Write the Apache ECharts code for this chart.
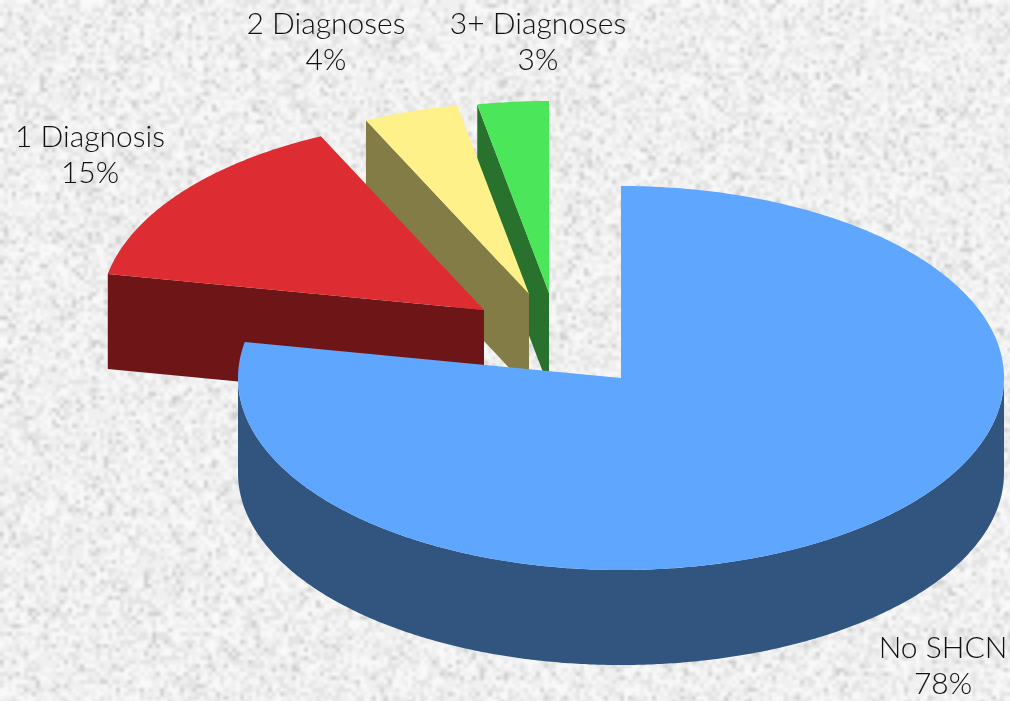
<!DOCTYPE html>
<html>
<head>
<meta charset="utf-8">
<style>
  html, body { margin: 0; padding: 0; background: #eee; }
  #shcnChart { width: 1010px; height: 701px; }
</style>
</head>
<body>
<div id="shcnChart"></div>
<script src="https://cdn.jsdelivr.net/npm/echarts@6/dist/echarts.min.js"></script>
<script>
const categories = ["No SHCN", "1 Diagnosis", "2 Diagnoses", "3+ Diagnoses"];
const shares = [78, 15, 4, 3];

const topColors = ["#5FA6FF", "#DE2C33", "#FFF18A", "#4CE65A"];
const sideColors = ["#32557F", "#6E1518", "#847C47", "#28722E"];
// where each wedge's tip sits once pulled out of the pie
const tips = [[621, 378], [484, 310], [529, 294], [549, 293]];
const labelPos = [[943, 666], [90, 155], [326, 42], [538, 42]];

const RX = 383;
const RY = 192;
const DEPTH = 95;

// mottled paper texture, fixed seed so every render is the same
function paperTexture() {
  const w = 253;
  const h = 176;
  const small = document.createElement("canvas");
  small.width = w;
  small.height = h;
  const ctx = small.getContext("2d");
  const img = ctx.createImageData(w, h);
  let seed = 20231;
  for (let i = 0; i < img.data.length; i += 4) {
    seed = (seed * 1103515245 + 12345) & 0x7fffffff;
    const n = (seed >> 8) % 100;
    const v = n < 6 ? 208 : n < 30 ? 228 : n < 70 ? 240 : 249;
    img.data[i] = img.data[i + 1] = img.data[i + 2] = v;
    img.data[i + 3] = 255;
  }
  ctx.putImageData(img, 0, 0);
  // one sheet the size of the page, so there are no tile seams
  const sheet = document.createElement("canvas");
  sheet.width = 1010;
  sheet.height = 701;
  const t = sheet.getContext("2d");
  t.imageSmoothingEnabled = true;
  t.drawImage(small, 0, 0, 1012, 704);
  return sheet;
}

function rimPoint(tip, deg, drop) {
  const a = (deg * Math.PI) / 180;
  return [tip[0] + RX * Math.sin(a), tip[1] - RY * Math.cos(a) + (drop || 0)];
}

function arcPoints(tip, from, to, drop) {
  const pts = [];
  const steps = Math.max(2, Math.ceil((to - from) * 2));
  for (let i = 0; i <= steps; i++) {
    pts.push(rimPoint(tip, from + ((to - from) * i) / steps, drop));
  }
  return pts;
}

function renderSlice(params, api) {
  const i = params.dataIndex;
  const value = api.value(0);
  const total = shares.reduce((a, b) => a + b, 0);
  const before = shares.slice(0, i).reduce((a, b) => a + b, 0);
  const start = (before / total) * 360;
  const end = ((before + value) / total) * 360;
  const tip = tips[i];
  const z = (categories.length - i) * 10;
  const children = [];

  // cut face on the start edge, only seen on the left half
  if (start > 180) {
    const rim = rimPoint(tip, start);
    children.push({
      type: "polygon",
      z2: z,
      shape: { points: [tip, rim, [rim[0], rim[1] + DEPTH], [tip[0], tip[1] + DEPTH]] },
      style: { fill: sideColors[i] },
    });
  }
  // outer wall, front half only
  const wallFrom = Math.max(start, 90);
  const wallTo = Math.min(end, 270);
  if (wallTo > wallFrom) {
    const upper = arcPoints(tip, wallFrom, wallTo, 0);
    const lower = arcPoints(tip, wallFrom, wallTo, DEPTH).reverse();
    children.push({
      type: "polygon",
      z2: z,
      shape: { points: upper.concat(lower) },
      style: { fill: sideColors[i] },
    });
  }
  // top of the wedge
  children.push({
    type: "polygon",
    z2: z + 1,
    shape: { points: [tip].concat(arcPoints(tip, start, end, 0)) },
    style: { fill: topColors[i] },
  });
  // label
  children.push({
    type: "text",
    z2: 100,
    x: labelPos[i][0],
    y: labelPos[i][1],
    style: {
      text: categories[i] + "\n" + value + "%",
      fill: "#111",
      font: '300 30px Lato, "Noto Sans", sans-serif',
      lineHeight: 36,
      align: "center",
      verticalAlign: "middle",
    },
  });
  return { type: "group", children };
}

const myChart = echarts.init(document.getElementById("shcnChart"));
myChart.setOption({
  animation: false,
  backgroundColor: { image: paperTexture(), repeat: "no-repeat" },
  series: [
    {
      type: "custom",
      coordinateSystem: "none",
      renderItem: renderSlice,
      data: shares.map((v, i) => ({ name: categories[i], value: [v] })),
    },
  ],
});
</script>
</body>
</html>
